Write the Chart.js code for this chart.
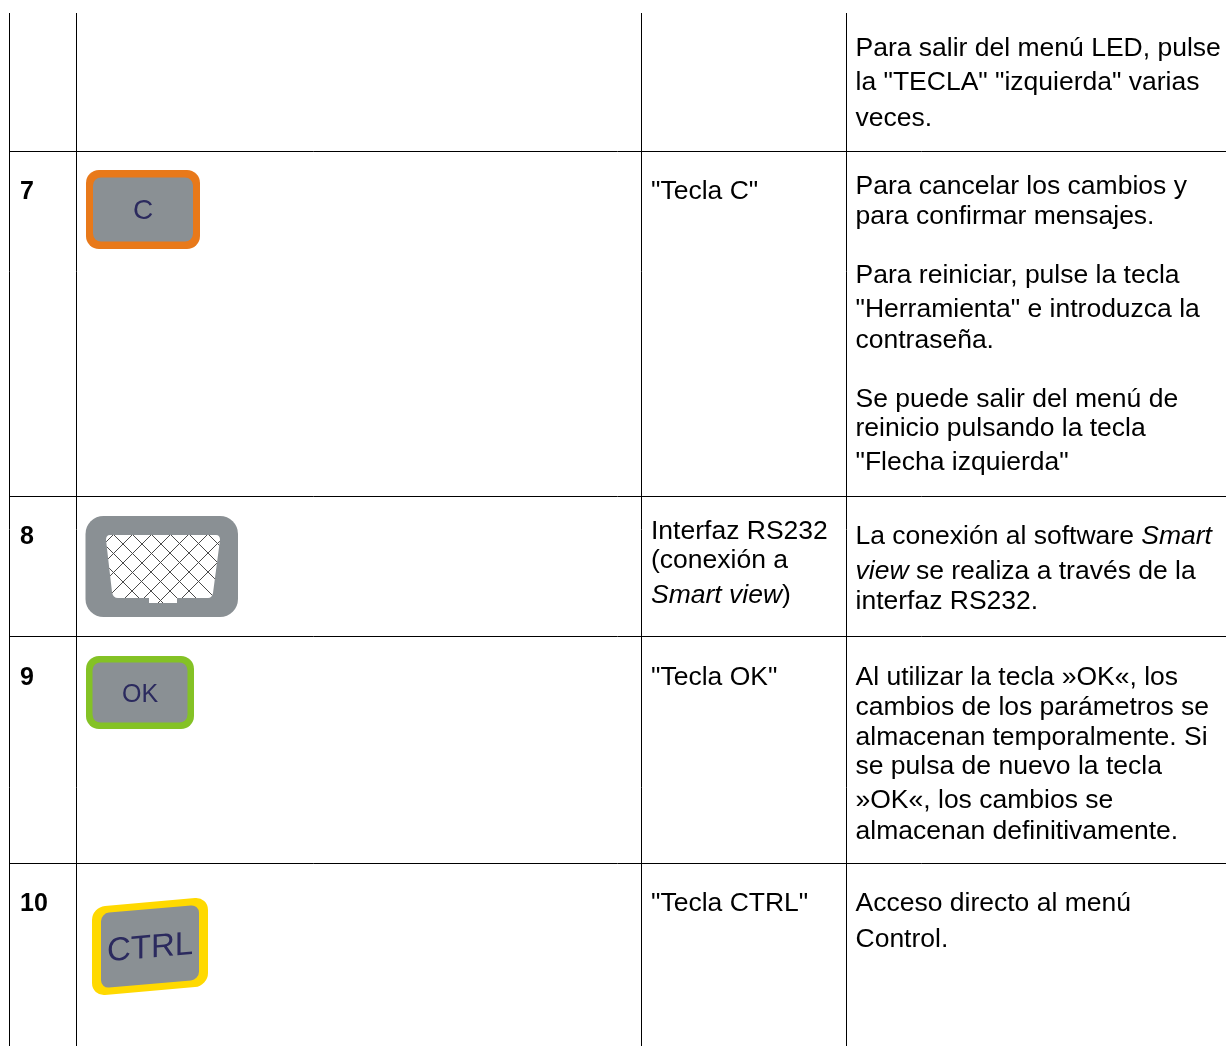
<!DOCTYPE html>
<html lang="es"><head><meta charset="utf-8">
<style>html,body{margin:0;padding:0;background:#fff}canvas{display:block}</style>
<script src="https://cdn.jsdelivr.net/npm/chart.js@4/dist/chart.umd.min.js"></script>
</head><body><canvas id="c" width="1226" height="1046"></canvas>
<script>
const columnEdges = [9, 76, 641, 846];
const rowEdges = [151, 496, 636, 863];
const rowNumbers = [["7", 190], ["8", 535], ["9", 676], ["10", 902]];
const nameColumn = [
  ['"Tecla C"', 190], ['Interfaz RS232', 530], ['(conexión a', 559], ['*Smart view*)', 594],
  ['"Tecla OK"', 676], ['"Tecla CTRL"', 902]
];
const descriptionColumn = [
  ['Para salir del menú LED, pulse', 47], ['la "TECLA" "izquierda" varias', 81], ['veces.', 117],
  ['Para cancelar los cambios y', 185], ['para confirmar mensajes.', 215],
  ['Para reiniciar, pulse la tecla', 274], ['"Herramienta" e introduzca la', 308], ['contraseña.', 339],
  ['Se puede salir del menú de', 398], ['reinicio pulsando la tecla', 427], ['"Flecha izquierda"', 461],
  ['La conexión al software *Smart*', 535], ['*view* se realiza a través de la', 570], ['interfaz RS232.', 600],
  ['Al utilizar la tecla »OK«, los', 676], ['cambios de los parámetros se', 706], ['almacenan temporalmente. Si', 736],
  ['se pulsa de nuevo la tecla', 765], ['»OK«, los cambios se', 799], ['almacenan definitivamente.', 830],
  ['Acceso directo al menú', 902], ['Control.', 938]
];
const hatchDown = [-459, -440, -421, -402, -383, -364, -345, -326];
const hatchUp = [648, 667, 686, 705, 723, 742, 761, 780];

const FONT = '"Liberation Sans", Arial, sans-serif';
const SIZE = 26.5;

function drawRuns(ctx, text, x, y) {
  text.split('*').forEach((run, i) => {
    ctx.font = (i % 2 ? 'italic ' : '') + SIZE + 'px ' + FONT;
    ctx.fillText(run, x, y);
    x += ctx.measureText(run).width;
  });
}
function key(ctx, sx, sy, o, i, border, label, size, dy, skew) {
  const cx = sx(o[0] + o[2] / 2), cy = sy(o[1] + o[3] / 2);
  ctx.save();
  ctx.translate(cx, cy);
  ctx.transform(1, Math.tan((skew || 0) * Math.PI / 180), 0, 1, 0, 0);
  ctx.fillStyle = border;
  ctx.beginPath(); ctx.roundRect(-o[2] / 2, -o[3] / 2, o[2], o[3], 13); ctx.fill();
  ctx.fillStyle = '#8a9094';
  ctx.beginPath(); ctx.roundRect(-i[0] / 2, -i[1] / 2, i[0], i[1], 8); ctx.fill();
  ctx.fillStyle = '#2b2a5e';
  ctx.font = size + 'px ' + FONT;
  ctx.textAlign = 'center';
  ctx.textBaseline = 'middle';
  ctx.fillText(label, 0, dy);
  ctx.restore();
}
const tablePlugin = {
  id: 'table',
  afterDraw(chart) {
    const ctx = chart.ctx;
    const sx = v => chart.scales.x.getPixelForValue(v);
    const sy = v => chart.scales.y.getPixelForValue(v);
    ctx.save();
    ctx.fillStyle = '#000';
    ctx.textAlign = 'left';
    ctx.textBaseline = 'alphabetic';
    ctx.font = 'bold 25px ' + FONT;
    rowNumbers.forEach(r => ctx.fillText(r[0], sx(20), sy(r[1] + 9)));
    nameColumn.forEach(r => drawRuns(ctx, r[0], sx(651), sy(r[1] + 9)));
    descriptionColumn.forEach(r => drawRuns(ctx, r[0], sx(855.5), sy(r[1] + 9)));

    key(ctx, sx, sy, [86, 170, 114, 79], [100, 64], '#e8791a', 'C', 28, 2);
    key(ctx, sx, sy, [86, 656, 108, 73], [95, 60], '#84c225', 'OK', 25, 3);
    key(ctx, sx, sy, [92, 902, 116, 89], [98, 75], '#ffd900', 'CTRL', 33, 2, -5);

    // RS232 connector
    ctx.fillStyle = '#8a9094';
    ctx.beginPath(); ctx.roundRect(sx(85.5), sy(516), 152.5, 101, 18); ctx.fill();
    ctx.beginPath();
    ctx.moveTo(sx(110), sy(535));
    ctx.lineTo(sx(216), sy(535));
    ctx.quadraticCurveTo(sx(220), sy(535), sx(220), sy(540));
    ctx.lineTo(sx(213), sy(593));
    ctx.quadraticCurveTo(sx(212), sy(598), sx(208), sy(598));
    ctx.lineTo(sx(177), sy(598));
    ctx.lineTo(sx(177), sy(603));
    ctx.lineTo(sx(149), sy(603));
    ctx.lineTo(sx(149), sy(598));
    ctx.lineTo(sx(118), sy(598));
    ctx.quadraticCurveTo(sx(113), sy(598), sx(112), sy(592));
    ctx.lineTo(sx(106), sy(540));
    ctx.quadraticCurveTo(sx(106), sy(535), sx(110), sy(535));
    ctx.closePath();
    ctx.fillStyle = '#fff'; ctx.fill();
    ctx.clip();
    ctx.strokeStyle = '#4a4a4a'; ctx.lineWidth = 1;
    ctx.beginPath();
    hatchDown.forEach(k => { ctx.moveTo(sx(k + 520), sy(520)); ctx.lineTo(sx(k + 620), sy(620)); });
    hatchUp.forEach(k => { ctx.moveTo(sx(k - 520), sy(520)); ctx.lineTo(sx(k - 620), sy(620)); });
    ctx.stroke();
    ctx.restore();
  }
};
new Chart(document.getElementById('c'), {
  type: 'scatter',
  data: { datasets: [{ data: [], showLine: false }] },
  plugins: [tablePlugin],
  options: {
    responsive: false, animation: false, devicePixelRatio: 1,
    layout: { padding: { left: 9, top: 13, right: 0, bottom: 0 } },
    plugins: { legend: { display: false }, tooltip: { enabled: false } },
    scales: {
      x: {
        type: 'linear', min: 9, max: 1226, position: 'bottom',
        afterBuildTicks: s => { s.ticks = columnEdges.map(v => ({ value: v })); },
        afterFit: s => { s.height = 0; },
        ticks: { display: false },
        grid: { color: '#000', lineWidth: 1, drawTicks: false },
        border: { display: false }
      },
      y: {
        type: 'linear', min: 13, max: 1046, reverse: true, position: 'left',
        afterBuildTicks: s => { s.ticks = rowEdges.map(v => ({ value: v })); },
        afterFit: s => { s.width = 0; },
        ticks: { display: false },
        grid: { color: '#000', lineWidth: 1, drawTicks: false },
        border: { display: false }
      }
    }
  }
});
</script></body></html>
